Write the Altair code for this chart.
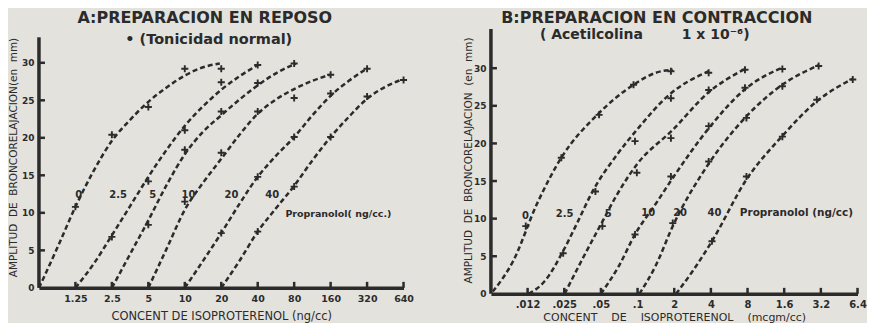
import json
import altair as alt
import pandas as pd

INK = "#2b2b2b"
BG = "#e4e2dd"
FONT = "DejaVu Sans"
NB = "\u00a0"

# ---------------- data ----------------
curve_names = ["0", "2.5", "5", "10", "20", "40"]

# Panel A (x = position index on the doubling axis: 0 = origin, 1 = 1.25 ng/cc ...)
a_xlabels = ["1.25", "2.5", "5", "10", "20", "40", "80", "160", "320", "640"]
a_curve_x = [
    [0, 0.5, 1, 1.5, 2, 2.5, 3, 3.5, 4, 4.5, 4.96],
    [1, 1.5, 2, 2.5, 3, 3.5, 4, 4.5, 5, 5.5, 6],
    [2, 2.5, 3, 3.5, 4, 4.5, 5, 5.5, 6, 6.5, 7.04],
    [3, 3.5, 4, 4.5, 5, 5.5, 6, 6.5, 7, 7.5, 7.98],
    [4, 4.5, 5, 5.5, 6, 6.5, 7, 7.5, 8, 8.5, 9.02],
    [5, 5.5, 6, 6.5, 7, 7.5, 8, 8.5, 9, 9.5, 9.92],
]
a_curve_y = [
    [0, 5.3, 10.8, 15.6, 19.6, 22.4, 24.8, 26.7, 28.3, 29.4, 29.9],
    [0, 3.2, 7.0, 10.9, 14.8, 18.4, 21.6, 24.2, 26.4, 28.2, 29.7],
    [0, 4.5, 9.0, 13.7, 17.8, 20.8, 23.0, 25.1, 27.0, 28.6, 29.9],
    [0, 5.2, 10.4, 14.0, 17.2, 20.4, 23.2, 25.1, 26.5, 27.6, 28.4],
    [0, 3.6, 7.3, 11.2, 14.8, 17.6, 20.1, 23.0, 25.6, 27.6, 29.3],
    [0, 3.6, 7.5, 10.6, 13.6, 17.0, 20.1, 22.8, 25.2, 26.8, 27.7],
]
a_mark_x = [
    [1, 2, 3, 4, 5],
    [2, 3, 4, 5, 6],
    [3, 4, 5, 6, 7],
    [4, 5, 6, 7, 8],
    [5, 6, 7, 8, 9],
    [6, 7, 8, 9, 10],
]
a_mark_y = [
    [10.8, 20.4, 24.1, 29.2, 29.2],
    [6.8, 14.2, 21.0, 27.4, 29.7],
    [8.4, 18.4, 23.5, 27.3, 29.9],
    [11.5, 18.0, 23.5, 25.3, 28.4],
    [7.3, 14.8, 20.1, 25.9, 29.2],
    [7.5, 13.5, 20.1, 25.5, 27.7],
]
a_label_x = [1.09, 2.17, 3.12, 4.1, 5.28, 6.4]
a_label_y = [12.4, 12.4, 12.4, 12.4, 12.4, 12.4]
a_prop = ("Propranolol( ng/cc.)", 6.76, 9.9)

# Panel B
b_xlabels = [".012", ".025", ".05", ".1", "2", "4", "8", "1.6", "3.2", "6.4"]
b_curve_x = [
    [0.05, 0.6, 1.25, 1.92, 2.9, 3.89, 4.5, 4.96],
    [1.03, 1.47, 1.97, 2.37, 2.77, 3.44, 3.98, 4.87, 5.94],
    [2.01, 2.46, 3.04, 3.44, 3.98, 4.96, 5.94, 6.93],
    [3.0, 3.5, 3.93, 4.5, 4.96, 5.94, 6.93, 7.95],
    [4.05, 4.5, 4.96, 5.94, 6.97, 7.95, 8.94],
    [5.05, 5.5, 6.03, 6.97, 7.95, 8.89, 9.87],
]
b_curve_y = [
    [0.3, 4.3, 11.9, 18.1, 23.8, 27.8, 29.4, 29.8],
    [0, 1.7, 5.7, 9.6, 13.6, 18.5, 21.8, 26.5, 29.6],
    [0, 4.3, 9.6, 13.2, 17.2, 21.8, 26.8, 29.9],
    [0, 3.8, 7.9, 12.0, 15.4, 22.0, 27.2, 30.1],
    [0, 3.8, 9.0, 17.3, 23.6, 27.8, 30.4],
    [0, 3.0, 7.0, 15.2, 21.0, 25.6, 28.6],
]
b_mark_x = [
    [0.95, 1.92, 2.95, 3.89, 4.91],
    [1.97, 2.85, 3.93, 4.91, 5.94],
    [3.04, 3.98, 4.91, 5.94, 6.93],
    [3.93, 4.91, 5.94, 6.93, 7.95],
    [4.96, 5.94, 6.97, 7.95, 8.94],
    [6.03, 6.97, 7.95, 8.89, 9.87],
]
b_mark_y = [
    [9.0, 18.1, 23.8, 27.8, 29.6],
    [5.4, 13.6, 20.3, 26.0, 29.4],
    [9.0, 16.1, 20.7, 27.1, 29.8],
    [7.9, 15.6, 22.3, 27.4, 29.9],
    [9.4, 17.6, 23.4, 27.6, 30.3],
    [7.0, 15.6, 20.9, 25.8, 28.5],
]
b_label_x = [0.94, 2.01, 3.2, 4.29, 5.16, 6.1]
b_label_y = [10.3, 10.6, 10.6, 10.7, 10.7, 10.7]
b_prop = ("Propranolol (ng/cc)", 6.79, 10.7)

y_ticks = [0, 5, 10, 15, 20, 25, 30]


def long_df(xs, ys):
    rows = []
    for name, xl, yl in zip(curve_names, xs, ys):
        for x, y in zip(xl, yl):
            rows.append({"curve": name, "idx": x, "val": y})
    return pd.DataFrame(rows)


def panel(cx, cy, mx, my, lx, ly, prop, prop_size, xlabels, xtitle, ytitle,
          width, height, ymax, axis_top, title, title_pos, sub, sub_pos,
          sub_size, ytitle_x, ytitle_y, xlab_pad, xtitle_y, xtitle_size,
          xlab_size):
    xs = alt.Scale(domain=[0, 10], nice=False, zero=False)
    ys = alt.Scale(domain=[0, ymax], nice=False, zero=False)
    expr = json.dumps([""] + xlabels) + "[datum.value]"
    X = alt.X("idx:Q", scale=xs, axis=alt.Axis(
        values=list(range(1, 11)), labelExpr=expr, title=xtitle, grid=False,
        ticks=False, tickSize=0, domainWidth=3.5, domainColor=INK,
        labelColor=INK, labelFont=FONT, labelFontSize=xlab_size,
        labelFontWeight="bold", labelPadding=xlab_pad, labelFlush=False,
        labelOverlap=False, titleFont=FONT, titleFontSize=xtitle_size,
        titleFontWeight="normal", titleColor=INK, titleY=xtitle_y,
        titleBaseline="middle"))
    Y = alt.Y("val:Q", scale=ys, axis=alt.Axis(
        values=y_ticks, title=ytitle, grid=False, ticks=False, tickSize=0,
        domain=False, labelColor=INK, labelFont=FONT, labelFontSize=9,
        labelFontWeight="bold", labelPadding=5,
        titleFont=FONT, titleFontSize=10.5, titleFontWeight="normal",
        titleColor=INK, titleX=ytitle_x, titleY=ytitle_y,
        titleBaseline="middle", titleAngle=270))

    curves = alt.Chart(long_df(cx, cy)).mark_line(
        color=INK, strokeWidth=2.5, strokeDash=[5, 3], interpolate="monotone"
    ).encode(x=X, y=Y, detail="curve:N")

    marks = alt.Chart(long_df(mx, my)).mark_point(
        shape="M-1,0H1M0,-1V1", filled=False, size=50, strokeWidth=1.9,
        color=INK, opacity=1
    ).encode(x="idx:Q", y="val:Q")

    lab_df = pd.DataFrame({"t": curve_names, "idx": lx, "val": ly})
    labels = alt.Chart(lab_df).mark_text(
        font=FONT, fontSize=10, fontWeight="bold", color=INK,
        align="center", baseline="middle"
    ).encode(x="idx:Q", y="val:Q", text="t:N")

    prop_df = pd.DataFrame({"t": [prop[0]], "idx": [prop[1]], "val": [prop[2]]})
    proptext = alt.Chart(prop_df).mark_text(
        font=FONT, fontSize=prop_size, fontWeight="bold", color=INK,
        align="left", baseline="middle"
    ).encode(x="idx:Q", y="val:Q", text="t:N")

    tick_df = pd.DataFrame({"idx": list(range(1, 11))})
    xticks = alt.Chart(tick_df).mark_rule(color=INK, strokeWidth=2.5).encode(
        x="idx:Q", y=alt.value(height), y2=alt.value(height - 6))

    ytick_df = pd.DataFrame({"val": y_ticks[1:]})
    yticks = alt.Chart(ytick_df).mark_rule(color=INK, strokeWidth=2.5).encode(
        y="val:Q", x=alt.value(0), x2=alt.value(6))

    yline = alt.Chart(pd.DataFrame({"a": [0], "b": [axis_top]})).mark_rule(
        color=INK, strokeWidth=3.5).encode(
        x=alt.value(0), y="a:Q", y2="b:Q")

    ttl = alt.Chart(pd.DataFrame({"t": [title]})).mark_text(
        font=FONT, fontSize=16, fontWeight="bold", color=INK,
        align="center", baseline="middle"
    ).encode(x=alt.value(title_pos[0]), y=alt.value(title_pos[1]), text="t:N")

    subt = alt.Chart(pd.DataFrame({"t": [sub]})).mark_text(
        font=FONT, fontSize=sub_size, fontWeight="bold", color=INK,
        align="center", baseline="middle"
    ).encode(x=alt.value(sub_pos[0]), y=alt.value(sub_pos[1]), text="t:N")

    return alt.layer(curves, marks, labels, proptext, xticks, yticks, yline,
                     ttl, subt).properties(width=width, height=height)


pa = panel(a_curve_x, a_curve_y, a_mark_x, a_mark_y, a_label_x, a_label_y,
           a_prop, 9.5, a_xlabels,
           "CONCENT DE ISOPROTERENOL (ng/cc)",
           "AMPLITUD" + NB + " DE" + NB + " BRONCORELAJACION(en" + NB + " mm)",
           365, 280, 37.28, 33.4,
           "A:PREPARACION EN REPOSO", (166, 10),
           "\u2022 (Tonicidad normal)", (170, 32), 14.5,
           -25, 149, 6, 29, 11.5, 9.5)

pb = panel(b_curve_x, b_curve_y, b_mark_x, b_mark_y, b_label_x, b_label_y,
           b_prop, 10.5, b_xlabels,
           "CONCENT" + NB * 3 + " DE" + NB * 3 + " ISOPROTERENOL" + NB * 3 + " (mcgm/cc)",
           "AMPLITUD" + NB + " DE" + NB + " BRONCORELAJACION" + NB + " (en" + NB + " mm)",
           367, 286, 37.98, 35.2,
           "B:PREPARACION EN CONTRACCION", (166, 10),
           "( Acetilcolina" + NB * 8 + "1 x 10\u207b\u2076)", (154, 27), 14,
           -22, 152, 6, 23.5, 11, 10)

chart = alt.hconcat(pa, pb, spacing=87.5, bounds="flush").properties(
    padding=0
).configure(background=BG).configure_view(stroke=None)

chart.save("out.html", embed_options={"renderer": "svg", "actions": False})
